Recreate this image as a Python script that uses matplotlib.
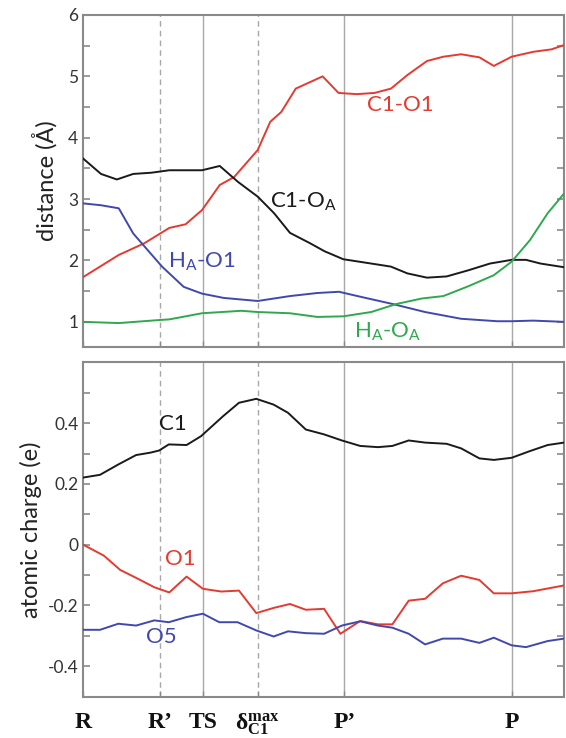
import matplotlib
matplotlib.use("Agg")
import matplotlib.pyplot as plt
from matplotlib.ticker import MultipleLocator, FixedLocator, FuncFormatter

plt.rcParams['font.family'] = ['Lato', 'DejaVu Sans']
plt.rcParams['mathtext.fontset'] = 'custom'
plt.rcParams['mathtext.rm'] = 'Lato'
plt.rcParams['mathtext.it'] = 'Lato:italic'
plt.rcParams['mathtext.bf'] = 'Liberation Serif:bold'

# ---- data ----
stage_pos = [0, 16, 25, 36.3, 54.3, 89.2]
stage_labels = ['R', 'R\u2019', 'TS', r'$\mathbf{\delta^{max}_{C1}}$', 'P\u2019', 'P']
stage_dashed = [False, True, False, True, False, False]

c1o1_x = [0, 7.4, 12.7, 17.9, 21.3, 24.7, 28.4, 31.4, 36.3, 38.9, 41.2, 44.2, 49.8, 53.1,
          56.9, 60.6, 64.0, 67.4, 71.5, 74.9, 78.6, 82.4, 85.4, 89.1, 93.6, 97.4, 100]
c1o1_y = [1.73, 2.09, 2.28, 2.53, 2.59, 2.82, 3.23, 3.36, 3.80, 4.26, 4.42, 4.80, 5.00, 4.73,
          4.71, 4.73, 4.80, 5.02, 5.25, 5.32, 5.36, 5.31, 5.17, 5.32, 5.40, 5.44, 5.51]

c1oa_x = [0, 3.7, 7.0, 10.4, 14.2, 17.9, 24.7, 28.4, 32.2, 36.3, 39.7, 43.0, 47.2, 50.2,
          54.1, 59.9, 64.0, 67.4, 71.5, 75.6, 80.1, 84.6, 89.1, 92.1, 95.1, 100]
c1oa_y = [3.66, 3.41, 3.32, 3.41, 3.43, 3.47, 3.47, 3.54, 3.28, 3.04, 2.77, 2.45, 2.28, 2.15,
          2.02, 1.95, 1.90, 1.79, 1.72, 1.74, 1.84, 1.95, 2.01, 2.01, 1.95, 1.89]

hao1_x = [0, 3.7, 7.4, 10.4, 13.4, 16.4, 20.9, 24.7, 29.2, 36.3, 43.0, 48.7, 53.2, 57.6,
          64.4, 71.1, 78.6, 86.1, 89.1, 93.6, 100]
hao1_y = [2.93, 2.90, 2.85, 2.44, 2.17, 1.90, 1.57, 1.46, 1.39, 1.34, 1.42, 1.47, 1.49, 1.41,
          1.29, 1.16, 1.05, 1.01, 1.01, 1.02, 1.00]

haoa_x = [0, 7.4, 15.9, 17.9, 24.7, 32.9, 36.3, 43.0, 48.7, 54.1, 59.9, 65.1, 70.4, 74.9,
          80.1, 85.4, 89.1, 92.9, 96.6, 100]
haoa_y = [1.00, 0.98, 1.03, 1.04, 1.14, 1.18, 1.16, 1.14, 1.08, 1.09, 1.16, 1.29, 1.38, 1.42,
          1.58, 1.76, 1.98, 2.33, 2.77, 3.09]

q_x = [0, 3.5, 7.3, 11.0, 14.0, 15.8, 17.8, 21.5, 24.5, 29.1, 32.4, 36.0, 39.6, 42.6, 46.3,
       50.1, 53.8, 57.6, 61.3, 64.3, 67.7, 71.1, 75.6, 78.6, 82.4, 85.4, 89.1, 92.9, 96.6, 100]
q_c1 = [0.221, 0.230, 0.264, 0.295, 0.303, 0.310, 0.330, 0.328, 0.357, 0.423, 0.467, 0.480,
        0.461, 0.434, 0.379, 0.363, 0.343, 0.325, 0.321, 0.325, 0.343, 0.336, 0.332, 0.317,
        0.284, 0.279, 0.286, 0.308, 0.328, 0.336]

o1_x = [0, 4.3, 7.7, 11.0, 14.8, 17.9, 21.5, 24.9, 28.7, 32.4, 36.0, 39.6, 43.0, 46.3, 50.1,
        53.5, 57.6, 61.3, 64.3, 67.7, 71.1, 74.8, 78.6, 82.4, 85.4, 89.1, 93.6, 100]
o1_q = [0.0, -0.036, -0.083, -0.109, -0.140, -0.157, -0.105, -0.145, -0.154, -0.151, -0.225,
        -0.208, -0.195, -0.214, -0.211, -0.293, -0.251, -0.262, -0.262, -0.184, -0.178,
        -0.127, -0.102, -0.116, -0.160, -0.160, -0.153, -0.134]

o5_x = [0, 3.5, 7.3, 11.0, 14.8, 17.8, 21.5, 24.9, 28.3, 32.1, 36.0, 39.6, 42.6, 46.3, 50.1,
        53.8, 57.6, 61.3, 64.3, 67.7, 71.1, 74.8, 78.6, 82.4, 85.4, 89.1, 92.1, 96.6, 100]
o5_q = [-0.280, -0.280, -0.260, -0.266, -0.249, -0.255, -0.238, -0.227, -0.255, -0.255,
        -0.282, -0.302, -0.285, -0.291, -0.293, -0.266, -0.252, -0.266, -0.273, -0.293,
        -0.328, -0.309, -0.309, -0.323, -0.306, -0.331, -0.337, -0.317, -0.309]

dist_ticks = [1, 2, 3, 4, 5, 6]
charge_ticks = [-0.4, -0.2, 0.0, 0.2, 0.4]

RED = '#e53a30'
BLACK = '#1a1a1a'
BLUE = '#4048b0'
GREEN = '#2fa84f'
SPINE = '#8a8a8a'
VLINE = '#a8a8a8'

fig = plt.figure(figsize=(5.66, 7.38), dpi=100)
ax1 = fig.add_axes([0.147, 0.5298, 0.8495, 0.4499])
ax2 = fig.add_axes([0.147, 0.056, 0.8495, 0.453])

for ax in (ax1, ax2):
    for pos, dashed in zip(stage_pos[1:], stage_dashed[1:]):
        ax.axvline(pos, color=VLINE, lw=1.0, ls=(0, (4, 3)) if dashed else '-', zorder=1)
    ax.set_xlim(0, 100)
    for s in ax.spines.values():
        s.set_color(SPINE)
        s.set_linewidth(1.5)
    ax.set_xticks(stage_pos)
    ax.tick_params(axis='x', direction='in', length=4, color=SPINE, width=1)
    ax.tick_params(axis='y', which='both', direction='in', length=5, color=SPINE, width=1.2,
                   left=True, right=True, labelsize=12.5, labelcolor='#333333')

# top panel
ax1.plot(c1o1_x, c1o1_y, color=RED, lw=1.4, zorder=3)
ax1.plot(c1oa_x, c1oa_y, color=BLACK, lw=1.4, zorder=3)
ax1.plot(hao1_x, hao1_y, color=BLUE, lw=1.4, zorder=3)
ax1.plot(haoa_x, haoa_y, color=GREEN, lw=1.4, zorder=3)
ax1.set_ylim(0.59, 6.0)
ax1.yaxis.set_major_locator(FixedLocator(dist_ticks))
ax1.yaxis.set_minor_locator(MultipleLocator(0.5))
ax1.set_xticklabels([])
ax1.set_ylabel('distance (\u00c5)', fontsize=17, color='#222222', labelpad=8)

ax1.text(65.9, 4.53, 'C1-O1', color=RED, fontsize=16, ha='center', va='center')
ax1.text(45.8, 2.96, r'C1-O$_\mathrm{A}$', color=BLACK, fontsize=16, ha='center', va='center')
ax1.text(24.7, 1.98, r'H$_\mathrm{A}$-O1', color=BLUE, fontsize=16, ha='center', va='center')
ax1.text(63.3, 0.83, r'H$_\mathrm{A}$-O$_\mathrm{A}$', color=GREEN, fontsize=16, ha='center', va='center')

# bottom panel
ax2.plot(q_x, q_c1, color=BLACK, lw=1.4, zorder=3)
ax2.plot(o1_x, o1_q, color=RED, lw=1.4, zorder=3)
ax2.plot(o5_x, o5_q, color=BLUE, lw=1.4, zorder=3)
ax2.set_ylim(-0.5, 0.6)
ax2.yaxis.set_major_locator(FixedLocator(charge_ticks))
ax2.yaxis.set_minor_locator(MultipleLocator(0.1))
ax2.yaxis.set_major_formatter(FuncFormatter(lambda v, p: '0' if abs(v) < 1e-9 else f'{v:.1f}'))
ax2.set_ylabel('atomic charge (e)', fontsize=17, color='#222222', labelpad=4)
ax2.set_xticklabels(stage_labels, fontsize=17, fontweight='bold', family='Liberation Serif')
ax2.tick_params(axis='x', pad=11, labelcolor='#111111')

ax2.text(18.7, 0.396, 'C1', color=BLACK, fontsize=16, ha='center', va='center')
ax2.text(20.2, -0.047, 'O1', color=RED, fontsize=16, ha='center', va='center')
ax2.text(16.2, -0.304, 'O5', color=BLUE, fontsize=16, ha='center', va='center')

fig.savefig('out.png', dpi=100)
